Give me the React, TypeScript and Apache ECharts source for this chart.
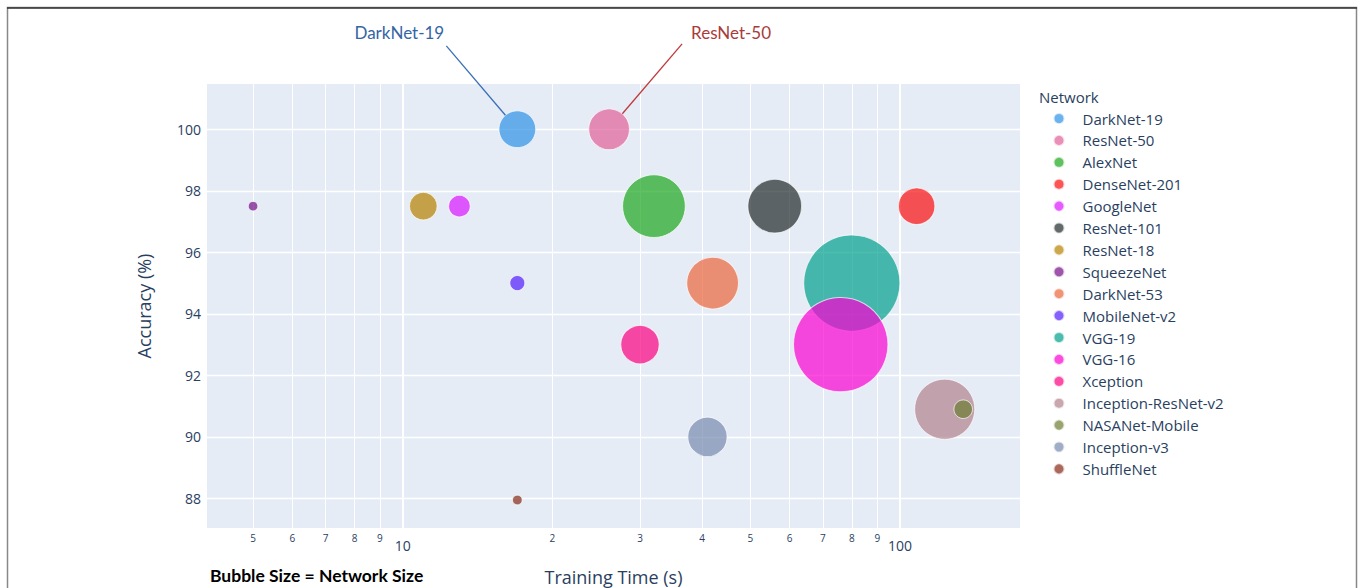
import React, { useEffect, useRef } from "react";
import * as echarts from "echarts";

const networks = [
  "DarkNet-19", "ResNet-50", "AlexNet", "DenseNet-201", "GoogleNet", "ResNet-101",
  "ResNet-18", "SqueezeNet", "DarkNet-53", "MobileNet-v2", "VGG-19", "VGG-16",
  "Xception", "Inception-ResNet-v2", "NASANet-Mobile", "Inception-v3", "ShuffleNet",
];
const trainingTime = [17, 26, 32, 108, 13, 56, 11, 5, 42, 17, 80, 76, 30, 123, 134, 41, 17];
const accuracy = [100, 100, 97.5, 97.5, 97.5, 97.5, 97.5, 97.5, 95, 95, 95, 93, 93, 90.9, 90.9, 90, 87.95];
const networkSizeMB = [78, 96, 227, 77, 27, 167, 44, 5.2, 155, 13, 535, 515, 85, 209, 20, 89, 5.4];
const colors = [
  "#2E91E5", "#E15F99", "#1CA71C", "#FB0D0D", "#DA16FF", "#222A2A", "#B68100", "#750D86",
  "#EB663B", "#511CFB", "#00A08B", "#FB00D1", "#FC0080", "#B2828D", "#6C7C32", "#778AAE", "#862A16",
];
const xTicks = [5, 6, 7, 8, 9, 10, 20, 30, 40, 50, 60, 70, 80, 90, 100];
const yTicks = [88, 90, 92, 94, 96, 98, 100];
const xRange = [4.04, 174.3];
const yRange = [87.04, 101.47];

const INK = "#2a3f5f";
const FONT = "'Open Sans', sans-serif";
const sizeOf = (mb: number) => 4.16 * Math.sqrt(mb);

export default function App() {
  const ref = useRef<HTMLDivElement>(null);
  useEffect(() => {
    if (!ref.current) return;
    const chart = echarts.init(ref.current, undefined, { renderer: "svg" });
    const series: any[] = networks.map((name, i) => ({
      name,
      type: "scatter",
      data: [[Math.log10(trainingTime[i]), accuracy[i], networkSizeMB[i]]],
      symbolSize: (v: number[]) => sizeOf(v[2]),
      itemStyle: { color: colors[i], opacity: 0.7, borderColor: "#ffffff", borderWidth: 1 },
      emphasis: { disabled: true },
    }));
    series[0].markLine = {
      silent: true,
      symbol: "none",
      z: 1,
      label: { show: false },
      lineStyle: { color: "#ffffff", width: 2, type: "solid" },
      data: [{ xAxis: Math.log10(10) }, { xAxis: Math.log10(100) }],
    };
    const option: any = {
      animation: false,
      backgroundColor: "#ffffff",
      grid: {
        left: 207, top: 84, right: 340, bottom: 60,
        outerBoundsMode: "none",
        show: true, backgroundColor: "#E5ECF6", borderWidth: 0,
      },
      xAxis: {
        type: "value",
        min: Math.log10(xRange[0]),
        max: Math.log10(xRange[1]),
        axisLine: { show: false },
        axisTick: { show: false, customValues: xTicks.map((t) => Math.log10(t)) },
        splitLine: { show: true, lineStyle: { color: "#ffffff", width: 1 } },
        axisLabel: {
          customValues: xTicks.map((t) => Math.log10(t)),
          margin: 4,
          color: INK,
          fontFamily: FONT,
          formatter: (v: number) => {
            const n = Math.round(Math.pow(10, v));
            if (n === 10 || n === 100) return "{big|" + n + "}";
            return "{small|" + (n >= 10 ? n / 10 : n) + "}";
          },
          rich: {
            small: { fontSize: 10, color: INK, fontFamily: FONT, lineHeight: 12 },
            big: { fontSize: 14, color: INK, fontFamily: FONT, lineHeight: 16, padding: [10, 0, 0, 0] },
          },
        },
        name: "Training Time (s)",
        nameLocation: "middle",
        nameGap: 40,
        nameTextStyle: { fontSize: 18, color: INK, fontFamily: FONT },
      },
      yAxis: {
        type: "value",
        min: yRange[0],
        max: yRange[1],
        axisLine: { show: false },
        axisTick: { show: false, customValues: yTicks },
        splitLine: { show: true, lineStyle: { color: "#ffffff", width: 1.3 } },
        axisLabel: { customValues: yTicks, margin: 6, fontSize: 14, color: INK, fontFamily: FONT },
        name: "Accuracy (%)",
        nameLocation: "middle",
        nameGap: 54,
        nameTextStyle: { fontSize: 18, color: INK, fontFamily: FONT },
      },
      legend: {
        orient: "vertical",
        left: 1047.5,
        top: 106,
        icon: "circle",
        itemWidth: 37,
        itemHeight: 11,
        itemGap: 6.9,
        textStyle: { fontSize: 15, color: INK, fontFamily: FONT, lineHeight: 15 },
        data: networks,
        selectedMode: false,
      },
      series,
    };
    chart.setOption(option);

    const graphics: any[] = [
      { type: "rect", silent: true, shape: { x: 7.5, y: 7.5, width: 1349, height: 620 }, style: { fill: "none", stroke: "#888888", lineWidth: 1.5 } },
      { type: "line", silent: true, shape: { x1: 7, y1: 8, x2: 1357, y2: 8 }, style: { stroke: "#333333", lineWidth: 1.5 } },
      { type: "text", left: 1039, top: 89, style: { text: "Network", fontSize: 15, fill: INK, fontFamily: FONT } },
      { type: "text", left: 210, top: 566, style: { text: "Bubble Size = Network Size", fontSize: 17.5, fontWeight: "bold", fill: "#000000", fontFamily: "Lato, sans-serif" } },
    ];
    const notes = [
      { idx: 0, color: "#3465a4", line: "#3a70b8", tx: -118, ty: -97, sx: -71, sy: -83.3 },
      { idx: 1, color: "#a93b3b", line: "#c0393b", tx: 122, ty: -97, sx: 73, sy: -85.3 },
    ];
    notes.forEach((n) => {
      const p = chart.convertToPixel({ seriesIndex: n.idx }, [Math.log10(trainingTime[n.idx]), accuracy[n.idx]]) as number[];
      const r = sizeOf(networkSizeMB[n.idx]) / 2;
      const len = Math.hypot(n.sx, n.sy);
      graphics.push({
        type: "line",
        silent: true,
        z: 10,
        shape: { x1: p[0] + n.sx, y1: p[1] + n.sy, x2: p[0] + (n.sx / len) * r, y2: p[1] + (n.sy / len) * r },
        style: { stroke: n.line, lineWidth: 1.3 },
      });
      graphics.push({
        type: "text",
        silent: true,
        z: 10,
        x: p[0] + n.tx,
        y: p[1] + n.ty,
        style: { text: networks[n.idx], fontSize: 17, fill: n.color, fontFamily: "Lato, sans-serif", align: "center", verticalAlign: "middle" },
      });
    });
    chart.setOption({ graphic: graphics });
    return () => chart.dispose();
  }, []);
  return <div ref={ref} style={{ position: "fixed", left: 0, top: 0, width: 1360, height: 588 }} />;
}
